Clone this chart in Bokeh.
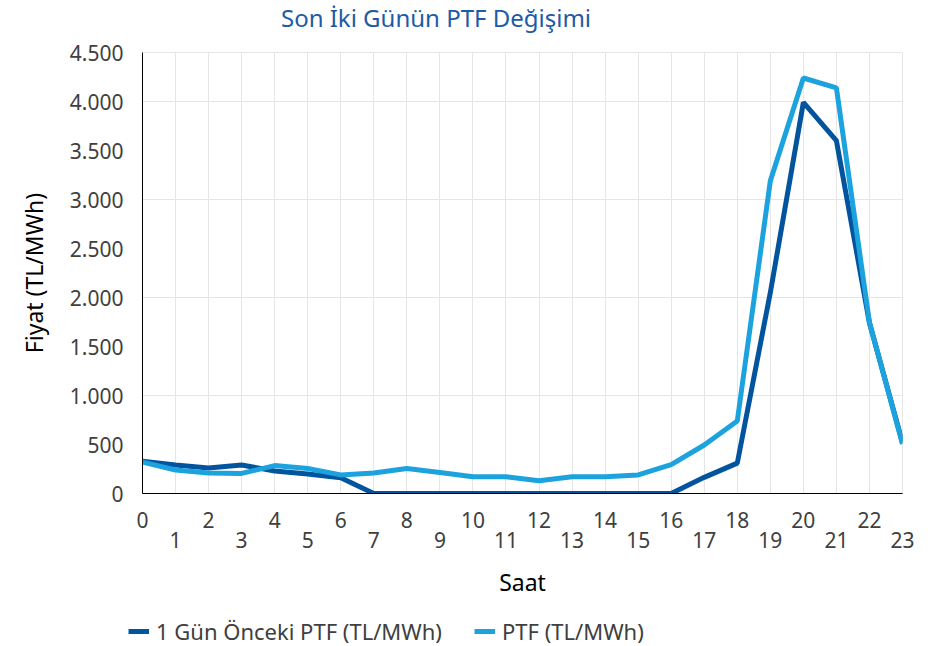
from bokeh.plotting import figure
from bokeh.models import (Range1d, FixedTicker, LinearAxis, Legend, LegendItem, Grid, Div)
from bokeh.layouts import column, row
from bokeh.embed import file_html
from bokeh.resources import INLINE

hours = list(range(24))
prev_day = [330, 290, 260, 290, 230, 200, 160, 0, 0, 0, 0, 0, 0, 0, 0, 0, 0,
            165, 310, 2050, 3990, 3600, 1740, 520]
ptf = [320, 240, 210, 205, 285, 255, 190, 210, 255, 215, 170, 170, 130, 170,
       170, 190, 295, 495, 740, 3190, 4240, 4140, 1745, 505]
y_ticks = [0, 500, 1000, 1500, 2000, 2500, 3000, 3500, 4000, 4500]
y_tick_labels = ["0", "500", "1.000", "1.500", "2.000", "2.500", "3.000",
                 "3.500", "4.000", "4.500"]
title_text = "Son İki Günün PTF Değişimi"
series_names = ["1 Gün Önceki PTF (TL/MWh)", "PTF (TL/MWh)"]

FONT = "Noto Sans"
TXT = "#404040"
DARK = "#03549f"
LIGHT = "#1ca3de"
W = 933
TITLE_H = 36
MAIN_H = 568
LEG_H = 42

title = Div(text=title_text, width=872, height=TITLE_H, margin=0,
            styles={"font-family": FONT, "font-size": "24px", "color": "#1d5ba6",
                    "text-align": "center", "line-height": f"{TITLE_H}px",
                    "white-space": "nowrap"})

p = figure(width=W, height=MAIN_H, output_backend="svg", toolbar_location=None,
           x_range=Range1d(0, 23), y_range=Range1d(0, 4500),
           x_axis_location=None, y_axis_location=None,
           min_border_left=142, min_border_right=31, min_border_top=52 - TITLE_H,
           min_border_bottom=TITLE_H + MAIN_H - 493, margin=0)
p.outline_line_color = "#e6e6e6"

# y axis
yax = LinearAxis(ticker=FixedTicker(ticks=y_ticks))
yax.major_label_overrides = {t: l for t, l in zip(y_ticks, y_tick_labels)}
yax.axis_line_color = "black"
yax.major_tick_line_color = None
yax.major_tick_out = 0
yax.major_tick_in = 0
yax.minor_tick_line_color = None
yax.major_label_text_font = FONT
yax.major_label_text_font_size = "21px"
yax.major_label_text_color = TXT
yax.major_label_standoff = 19
yax.axis_label = "Fiyat (TL/MWh)"
yax.axis_label_text_font = FONT
yax.axis_label_text_font_size = "23px"
yax.axis_label_text_font_style = "normal"
yax.axis_label_text_color = "black"
yax.axis_label_standoff = 17
p.add_layout(yax, "left")

# x axes: even hours on the first row, odd hours on the second row
xax1 = LinearAxis(ticker=FixedTicker(ticks=[h for h in hours if h % 2 == 0]))
xax1.axis_line_color = "black"
xax1.major_tick_line_color = None
xax1.major_tick_out = 0
xax1.major_tick_in = 0
xax1.minor_tick_line_color = None
xax1.major_label_text_font = FONT
xax1.major_label_text_font_size = "21px"
xax1.major_label_text_color = TXT
xax1.major_label_standoff = 18
p.add_layout(xax1, "below")

xax2 = LinearAxis(ticker=FixedTicker(ticks=[h for h in hours if h % 2 == 1]))
xax2.axis_line_color = None
xax2.major_tick_line_color = None
xax2.major_tick_out = 0
xax2.major_tick_in = 0
xax2.minor_tick_line_color = None
xax2.major_label_text_font = FONT
xax2.major_label_text_font_size = "21px"
xax2.major_label_text_color = TXT
xax2.major_label_standoff = 1
xax2.axis_label = "Saat"
xax2.axis_label_text_font = FONT
xax2.axis_label_text_font_size = "23px"
xax2.axis_label_text_font_style = "normal"
xax2.axis_label_text_color = "black"
xax2.axis_label_standoff = 15
p.add_layout(xax2, "below")

p.add_layout(Grid(dimension=0, ticker=FixedTicker(ticks=hours),
                  grid_line_color="#e6e6e6", grid_line_width=1))

p.line(hours, prev_day, line_color=DARK, line_width=5)
p.line(hours, ptf, line_color=LIGHT, line_width=5)

# legend strip below the chart
lf = figure(width=W, height=LEG_H, output_backend="svg", toolbar_location=None,
            x_range=Range1d(0, 23), y_range=Range1d(0, 4500),
            x_axis_location=None, y_axis_location=None,
            min_border=0, min_border_left=0, margin=0, outline_line_color=None)
lf.grid.visible = False
l1 = lf.line(hours, prev_day, line_color=DARK, line_width=5, visible=False)
l2 = lf.line(hours, ptf, line_color=LIGHT, line_width=5, visible=False)
legend = Legend(items=[LegendItem(label=series_names[0], renderers=[l1]),
                       LegendItem(label=series_names[1], renderers=[l2])],
                orientation="horizontal", location=(128, 0),
                glyph_width=21, glyph_height=6, label_standoff=7, spacing=32,
                padding=0, margin=0, border_line_color=None,
                background_fill_alpha=0, inactive_fill_alpha=0,
                label_text_font=FONT, label_text_font_size="22px",
                label_text_color=TXT)
lf.add_layout(legend, "center")

open("out.html", "w").write(file_html(column(title, p, row(lf, spacing=0), spacing=0), INLINE))
